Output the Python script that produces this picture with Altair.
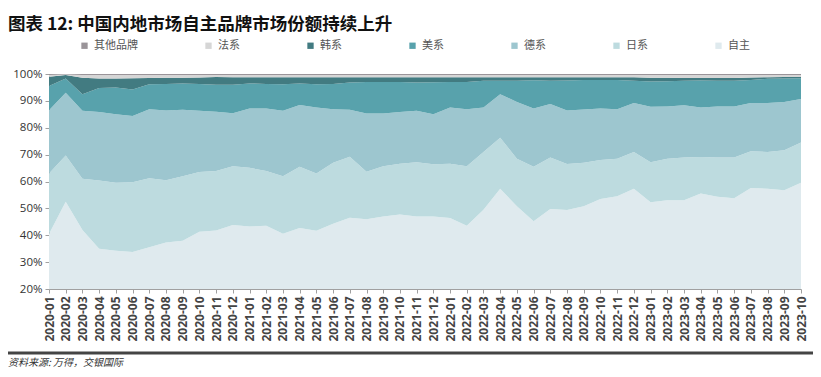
import altair as alt
import pandas as pd

months = ["2020-01","2020-02","2020-03","2020-04","2020-05","2020-06","2020-07","2020-08","2020-09","2020-10","2020-11","2020-12",
          "2021-01","2021-02","2021-03","2021-04","2021-05","2021-06","2021-07","2021-08","2021-09","2021-10","2021-11","2021-12",
          "2022-01","2022-02","2022-03","2022-04","2022-05","2022-06","2022-07","2022-08","2022-09","2022-10","2022-11","2022-12",
          "2023-01","2023-02","2023-03","2023-04","2023-05","2023-06","2023-07","2023-08","2023-09","2023-10"]

zizhu = [40.5,52.5,42,35,34.2,33.8,35.5,37.3,38,41.3,41.8,43.8,
         43.3,43.5,40.6,42.7,41.7,44.3,46.5,46,47,47.7,47,47,
         46.4,43.5,49.5,57.3,50.8,45.2,49.8,49.3,50.8,53.5,54.5,57.3,
         52.3,53,53,55.5,54.3,53.8,57.6,57.3,56.7,59.5]
rixi = [22.5,17.2,19,25.4,25.3,25.9,25.7,23.2,24,22.2,22.1,21.9,
        21.8,20.4,21.4,22.8,21.3,22.7,22.7,17.6,18.7,18.9,20.2,19.4,
        20.2,22.2,21.5,19,17.7,20.3,19.1,17.1,16.2,14.5,14,13.7,
        14.9,15.5,15.9,13.6,14.6,15.1,13.7,13.7,14.9,15]
dexi = [23.5,23.3,25.3,25.5,25.5,24.7,25.7,25.9,24.7,22.8,22.1,19.7,
        22.1,23.3,24.3,23,24.5,19.9,17.5,21.7,19.6,19.3,19.1,18.6,
        20.9,21.2,16.5,16.2,21.1,21.7,19.9,19.9,19.9,19.2,18.4,18.2,
        20.6,19.4,19.5,18.4,19,19,17.9,18.2,18,16.2]
meixi = [9,5.3,6.2,8.9,10,9.8,9.3,9.9,9.8,10,10,10.6,
         9.3,9.1,9.9,8,8.7,9.4,10.1,11.7,11.7,11.1,10.5,11.9,
         9.5,10.1,10,5,7.9,10.5,8.7,11.2,11.0,10.6,10.9,8.3,
         9.4,9.4,9.1,10.1,9.6,9.6,8.6,9,8.7,7.7]
hanxi = [3.5,1.3,6.1,3.5,3.3,4.2,2.3,2.3,2.1,2.4,2.9,2.8,
         2.3,2.5,2.6,2.3,2.6,2.5,2,1.8,1.8,1.8,2,1.9,
         1.8,1.8,1.3,1.3,1.3,1.1,1.3,1.2,1.0,1,1,1.3,
         1.4,1.3,1,0.9,1,1,0.9,0.6,0.6,0.5]
faxi = [0.6,0.2,1.0,1.3,1.3,1.2,1.1,1.0,1.0,0.9,0.7,0.8,
        0.8,0.8,0.8,0.8,0.8,0.8,0.8,0.8,0.8,0.8,0.8,0.8,
        0.8,0.8,0.8,0.8,0.8,0.8,0.8,0.8,0.8,0.8,0.8,0.8,
        1.0,1.0,1.1,1.1,1.1,1.1,0.9,0.8,0.7,0.7]
qita = [0.4,0.2,0.4,0.4,0.4,0.4,0.4,0.4,0.4,0.4,0.4,0.4,
        0.4,0.4,0.4,0.4,0.4,0.4,0.4,0.4,0.4,0.4,0.4,0.4,
        0.4,0.4,0.4,0.4,0.4,0.4,0.4,0.4,0.4,0.4,0.4,0.4,
        0.4,0.4,0.4,0.4,0.4,0.4,0.4,0.4,0.4,0.4]

legend_order = ["其他品牌", "法系", "韩系", "美系", "德系", "日系", "自主"]
colors = ["#9a9499", "#d6d6d6", "#427b81", "#58a2ac", "#9dc6cf", "#bddbdf", "#dfeaee"]
series = {"自主": zizhu, "日系": rixi, "德系": dexi, "美系": meixi,
          "韩系": hanxi, "法系": faxi, "其他品牌": qita}
stack_rank = {name: i for i, name in enumerate(series)}

rows = []
for name, vals in series.items():
    for m, v in zip(months, vals):
        rows.append({"month": m, "brand": name, "share": v, "rank": stack_rank[name]})
df = pd.DataFrame(rows)

W, H = 752, 215
LEFT, TOP = 41, 66

area = alt.Chart(df).mark_area(clip=True, interpolate="linear").encode(
    x=alt.X("month:O", sort=months, title=None,
            scale=alt.Scale(type="point", padding=0),
            axis=alt.Axis(labelAngle=270, labelAlign="right", labelBaseline="middle",
                          labelFontSize=12, labelFont="Open Sans", labelFontWeight="bold",
                          labelColor="#444444", labelPadding=3,
                          tickSize=4, tickColor="#a0a0a0", domainColor="#a0a0a0",
                          labelOverlap=False, grid=False)),
    y=alt.Y("share:Q", stack="normalize", title=None,
            scale=alt.Scale(domain=[0.2, 1.0]),
            axis=alt.Axis(format=".0%", values=[0.2, 0.3, 0.4, 0.5, 0.6, 0.7, 0.8, 0.9, 1.0],
                          labelFontSize=11.5, labelFont="Open Sans", labelColor="#333333",
                          tickSize=4, tickColor="#a0a0a0", domainColor="#a0a0a0",
                          labelPadding=3, grid=False)),
    color=alt.Color("brand:N", scale=alt.Scale(domain=legend_order, range=colors),
                    legend=alt.Legend(title=None, orient="none", legendX=30, legendY=-34,
                                      direction="horizontal", columns=7, columnPadding=65,
                                      symbolType="square", symbolSize=40, symbolStrokeWidth=0,
                                      labelFont="Noto Sans CJK SC", labelFontSize=11,
                                      labelColor="#555555", labelOffset=4, padding=0)),
    order=alt.Order("rank:Q"),
)

text_df = pd.DataFrame({"t": ["资料来源: 万得，交银国际"]})

footnote = alt.Chart(text_df).mark_text(align="left", baseline="middle", fontSize=10,
                                         font="Noto Sans CJK SC", fontStyle="italic",
                                         color="#333333").encode(
    text="t:N", x=alt.value(-LEFT), y=alt.value(289))

rule = alt.Chart(text_df).mark_rule(color="#444444", strokeWidth=3).encode(
    x=alt.value(-LEFT), x2=alt.value(W + 12), y=alt.value(279))

chart = alt.layer(area, rule, footnote).properties(
    width=W, height=H,
    autosize=alt.AutoSizeParams(type="none"),
    padding={"left": LEFT, "top": TOP, "right": 12, "bottom": 80},
    title=alt.TitleParams("图表 12: 中国内地市场自主品牌市场份额持续上升", anchor="start",
                          frame="group", dx=-LEFT, orient="top", offset=7,
                          fontSize=17.5, font="Noto Sans CJK SC", fontWeight="bold",
                          color="#111111"),
).configure_view(strokeWidth=0)

chart.save("out.html", embed_options={"renderer": "svg", "actions": False})
